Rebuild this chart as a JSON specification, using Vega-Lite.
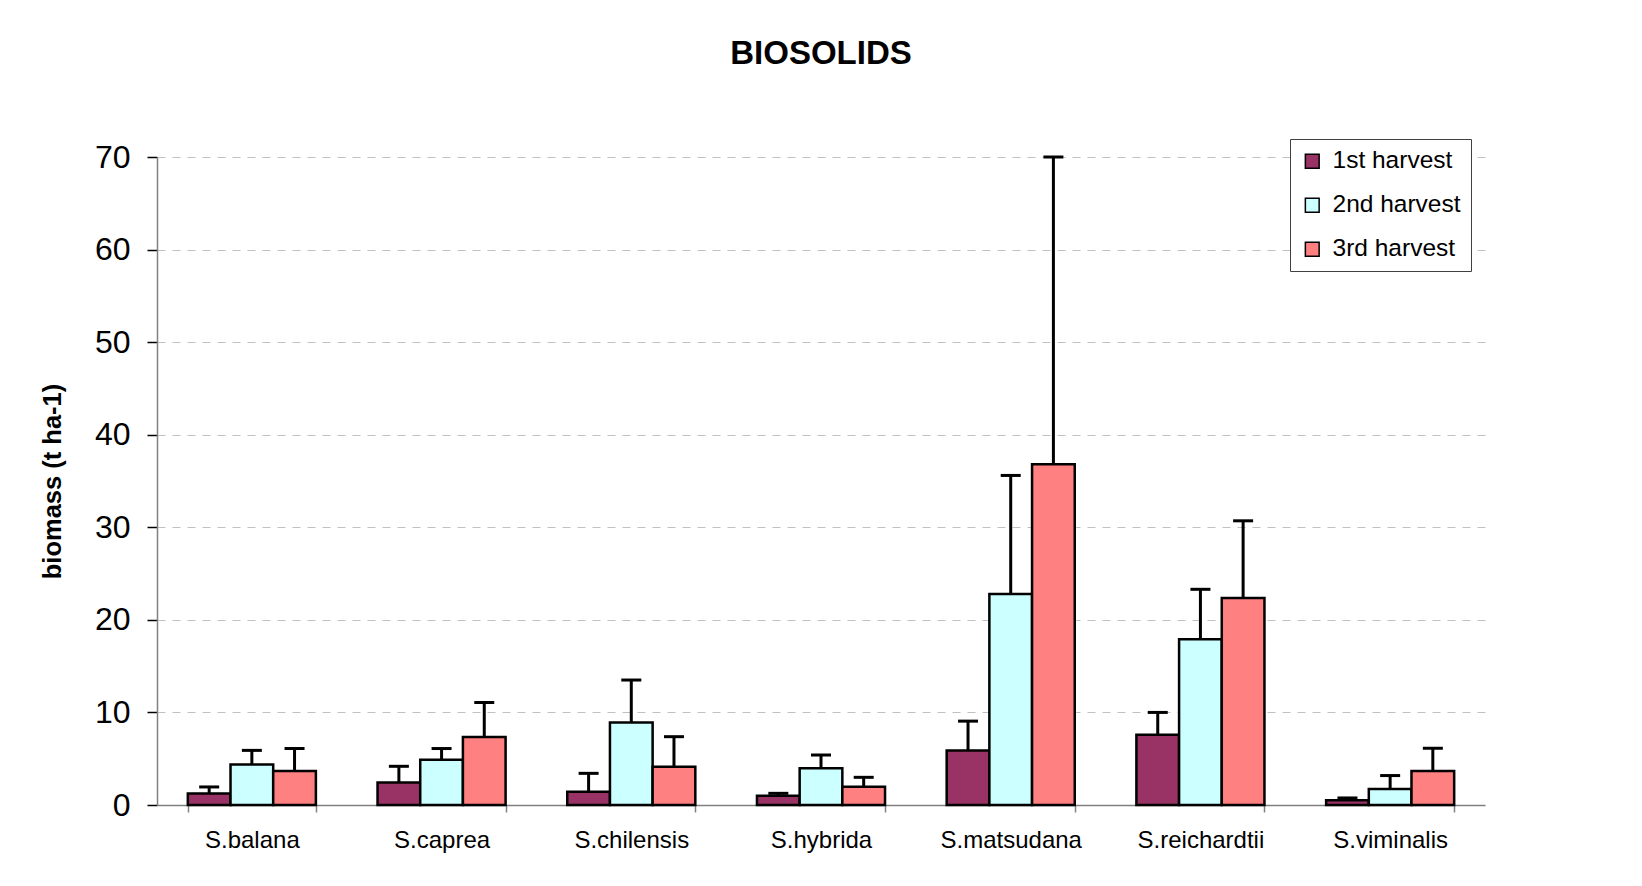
{
  "$schema": "https://vega.github.io/schema/vega-lite/v6.json",
  "autosize": {"type": "none"},
  "padding": {"left": 157, "top": 157, "right": 157, "bottom": 81},
  "width": 1328,
  "height": 648,
  "background": "white",
  "title": {
    "text": "BIOSOLIDS",
    "font": "Liberation Sans",
    "fontSize": 33,
    "fontWeight": "bold",
    "color": "black",
    "anchor": "middle",
    "offset": 68
  },
  "data": {
    "values": [
      {"species": "S.balana", "harvest": "1st harvest", "value": 1.23, "upper": 1.95},
      {"species": "S.balana", "harvest": "2nd harvest", "value": 4.37, "upper": 5.9},
      {"species": "S.balana", "harvest": "3rd harvest", "value": 3.68, "upper": 6.1},
      {"species": "S.caprea", "harvest": "1st harvest", "value": 2.42, "upper": 4.18},
      {"species": "S.caprea", "harvest": "2nd harvest", "value": 4.9, "upper": 6.1},
      {"species": "S.caprea", "harvest": "3rd harvest", "value": 7.35, "upper": 11.07},
      {"species": "S.chilensis", "harvest": "1st harvest", "value": 1.44, "upper": 3.42},
      {"species": "S.chilensis", "harvest": "2nd harvest", "value": 8.9, "upper": 13.5},
      {"species": "S.chilensis", "harvest": "3rd harvest", "value": 4.14, "upper": 7.38},
      {"species": "S.hybrida", "harvest": "1st harvest", "value": 1.0, "upper": 1.26},
      {"species": "S.hybrida", "harvest": "2nd harvest", "value": 3.96, "upper": 5.4},
      {"species": "S.hybrida", "harvest": "3rd harvest", "value": 1.98, "upper": 2.99},
      {"species": "S.matsudana", "harvest": "1st harvest", "value": 5.9, "upper": 9.06},
      {"species": "S.matsudana", "harvest": "2nd harvest", "value": 22.8, "upper": 35.6},
      {"species": "S.matsudana", "harvest": "3rd harvest", "value": 36.8, "upper": 70},
      {"species": "S.reichardtii", "harvest": "1st harvest", "value": 7.6, "upper": 10.0},
      {"species": "S.reichardtii", "harvest": "2nd harvest", "value": 17.9, "upper": 23.3},
      {"species": "S.reichardtii", "harvest": "3rd harvest", "value": 22.35, "upper": 30.7},
      {"species": "S.viminalis", "harvest": "1st harvest", "value": 0.5, "upper": 0.76},
      {"species": "S.viminalis", "harvest": "2nd harvest", "value": 1.73, "upper": 3.18},
      {"species": "S.viminalis", "harvest": "3rd harvest", "value": 3.68, "upper": 6.13}
    ]
  },
  "encoding": {
    "x": {
      "field": "species",
      "type": "nominal",
      "sort": null,
      "scale": {"paddingInner": 0.325, "paddingOuter": 0.1625},
      "axis": {
        "title": null,
        "labelAngle": 0,
        "labelFont": "Liberation Sans",
        "labelFontSize": 24,
        "labelColor": "black",
        "labelPadding": 16,
        "tickBand": "extent",
        "tickSize": 7,
        "tickColor": "#808080",
        "domainColor": "#808080",
        "domainWidth": 1.5,
        "tickWidth": 1.5,
        "grid": false
      }
    },
    "xOffset": {
      "field": "harvest",
      "type": "nominal",
      "sort": ["1st harvest", "2nd harvest", "3rd harvest"],
      "scale": {"paddingInner": 0, "paddingOuter": 0}
    }
  },
  "layer": [
    {
      "mark": {"type": "bar", "stroke": "black", "strokeWidth": 2.5, "opacity": 1},
      "encoding": {
        "y": {
          "field": "value",
          "type": "quantitative",
          "scale": {"domain": [0, 70], "nice": false},
          "axis": {
            "title": "biomass (t ha-1)",
            "titleFont": "Liberation Sans",
            "titleFontSize": 25.5,
            "titleFontWeight": "bold",
            "titleColor": "black",
            "titlePadding": 29,
            "values": [0, 10, 20, 30, 40, 50, 60, 70],
            "labelFont": "Liberation Sans",
            "labelFontSize": 32,
            "labelColor": "black",
            "labelPadding": 17,
            "tickSize": 10,
            "tickColor": "black",
            "tickWidth": 1.5,
            "domainColor": "#808080",
            "domainWidth": 1.5,
            "grid": true,
            "gridColor": "#c0c0c0",
            "gridDash": [8, 7],
            "gridWidth": 1.2
          }
        },
        "color": {
          "field": "harvest",
          "type": "nominal",
          "sort": ["1st harvest", "2nd harvest", "3rd harvest"],
          "scale": {
            "domain": ["1st harvest", "2nd harvest", "3rd harvest"],
            "range": ["#993366", "#CCFFFF", "#FF8080"]
          },
          "legend": {
            "title": null,
            "orient": "none",
            "legendX": 1133,
            "legendY": -18,
            "symbolType": "square",
            "symbolSize": 190,
            "symbolStrokeColor": "black",
            "symbolStrokeWidth": 1.5,
            "symbolOpacity": 1,
            "labelFont": "Liberation Sans",
            "labelFontSize": 24.5,
            "labelColor": "black",
            "labelOffset": 8,
            "rowPadding": 19,
            "padding": 10,
            "strokeColor": "#404040",
            "fillColor": "white"
          }
        }
      }
    },
    {
      "mark": {"type": "rule", "color": "black", "strokeWidth": 3},
      "encoding": {
        "y": {"field": "value", "type": "quantitative"},
        "y2": {"field": "upper"}
      }
    },
    {
      "mark": {"type": "tick", "color": "black", "size": 20, "thickness": 3, "orient": "horizontal", "opacity": 1},
      "encoding": {
        "y": {"field": "upper", "type": "quantitative"}
      }
    }
  ],
  "config": {
    "view": {"stroke": null},
    "font": "Liberation Sans"
  }
}
